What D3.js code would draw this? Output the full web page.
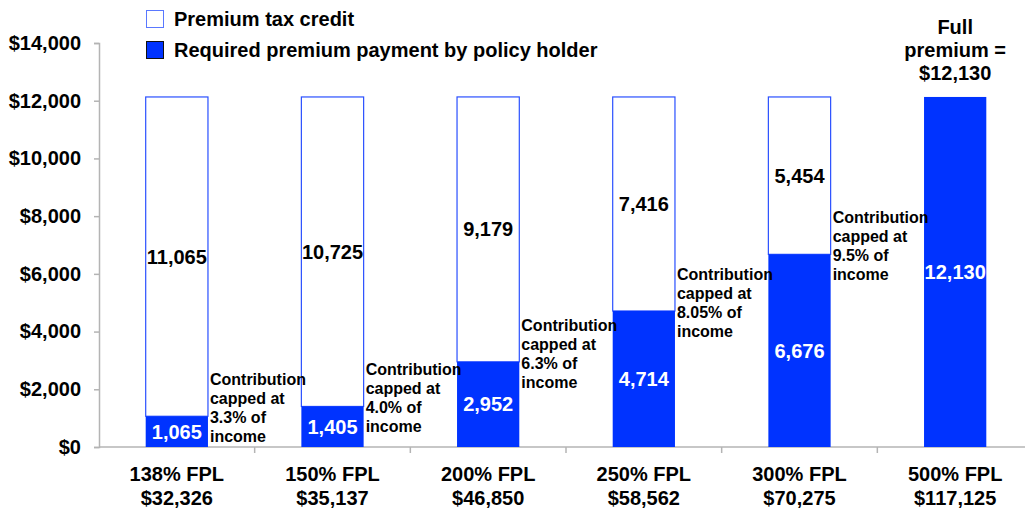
<!DOCTYPE html>
<html>
<head>
<meta charset="utf-8">
<script src="https://cdn.jsdelivr.net/npm/d3@7"></script>
<style>
  body { margin: 0; background: #fff; }
  svg { display: block; font-family: "Liberation Sans", Arial, sans-serif; font-weight: bold; }
</style>
</head>
<body>
<svg id="chart" width="1025" height="510"></svg>
<script>
// data
const categories = ["138% FPL", "150% FPL", "200% FPL", "250% FPL", "300% FPL", "500% FPL"];
const incomes = ["$32,326", "$35,137", "$46,850", "$58,562", "$70,275", "$117,125"];
const payments = [1065, 1405, 2952, 4714, 6676, 12130];
const credits = [11065, 10725, 9179, 7416, 5454, 0];
const capRates = ["3.3%", "4.0%", "6.3%", "8.05%", "9.5%", null];
const yTicks = [0, 2000, 4000, 6000, 8000, 10000, 12000, 14000];
const legendLabels = ["Premium tax credit", "Required premium payment by policy holder"];
const fullPremiumNote = ["Full", "premium =", "$12,130"];

const BLUE = "#0033ff";
const AXIS = "#b4b4b4";

const svg = d3.select("#chart");

const x = d3.scaleBand().domain(categories).range([99, 1033]).padding(0);
const y = d3.scaleLinear().domain([0, 14000]).range([447, 43]);
const barW = x.bandwidth() * 0.4;
const fmt = d3.format(",");

// y axis
const yAxis = svg.append("g")
    .attr("transform", "translate(99,0)")
    .call(d3.axisLeft(y).tickValues(yTicks).tickSize(5).tickPadding(13)
        .tickFormat(d => "$" + fmt(d)));
yAxis.select(".domain").attr("stroke", AXIS).attr("stroke-width", 1.5);
yAxis.selectAll(".tick line").attr("stroke", AXIS).attr("stroke-width", 1.5);
yAxis.selectAll(".tick text")
    .attr("fill", "#000").attr("font-size", 20).attr("font-weight", "bold")
    .attr("font-family", "Liberation Sans, Arial, sans-serif");

// x axis: line with ticks at the band boundaries
const xg = svg.append("g");
xg.append("line")
    .attr("x1", 99).attr("x2", 1033)
    .attr("y1", y(0)).attr("y2", y(0))
    .attr("stroke", AXIS).attr("stroke-width", 1.5);
xg.selectAll(".bound").data(categories.slice(1))
  .join("line")
    .attr("x1", d => x(d)).attr("x2", d => x(d))
    .attr("y1", y(0)).attr("y2", y(0) + 6)
    .attr("stroke", AXIS).attr("stroke-width", 1.5);

xg.selectAll(".cat").data(categories)
  .join("text")
    .attr("x", d => x(d) + x.bandwidth() / 2)
    .attr("y", 481)
    .attr("text-anchor", "middle")
    .attr("font-size", 20)
    .text(d => d);
xg.selectAll(".inc").data(incomes)
  .join("text")
    .attr("x", (d, i) => x(categories[i]) + x.bandwidth() / 2)
    .attr("y", 505)
    .attr("text-anchor", "middle")
    .attr("font-size", 20)
    .text(d => d);

// bars
const bars = svg.append("g").selectAll("g").data(categories).join("g")
    .attr("transform", d => `translate(${x(d) + (x.bandwidth() - barW) / 2},0)`);

// premium tax credit (white, stacked on top)
bars.filter((d, i) => credits[i] > 0).append("rect")
    .attr("x", 0)
    .attr("width", barW)
    .attr("y", (d, i) => y(payments[i] + credits[i]))
    .attr("height", (d, i) => y(payments[i]) - y(payments[i] + credits[i]))
    .attr("fill", "#fff")
    .attr("stroke", "#2a50ff")
    .attr("stroke-width", 1.2);

// required payment (blue)
bars.append("rect")
    .attr("x", 0)
    .attr("width", barW)
    .attr("y", (d, i) => y(payments[i]))
    .attr("height", (d, i) => y(0) - y(payments[i]))
    .attr("fill", BLUE);

// value labels
bars.append("text")
    .attr("x", barW / 2)
    .attr("y", (d, i) => (y(0) + y(payments[i])) / 2 + 7)
    .attr("text-anchor", "middle")
    .attr("font-size", 20)
    .attr("fill", "#fff")
    .text((d, i) => fmt(payments[i]));

bars.filter((d, i) => credits[i] > 0).append("text")
    .attr("x", barW / 2)
    .attr("y", (d, i) => (y(payments[i]) + y(payments[i] + credits[i])) / 2 + 7)
    .attr("text-anchor", "middle")
    .attr("font-size", 20)
    .attr("fill", "#000")
    .text((d, i) => fmt(credits[i]));

// contribution cap notes, right of each bar
const notes = svg.append("g");
categories.forEach((c, i) => {
    if (!capRates[i]) return;
    const t = notes.append("text")
        .attr("x", x(c) + (x.bandwidth() + barW) / 2 + 2)
        .attr("y", y(payments[i]) - 31)
        .attr("font-size", 16)
        .attr("fill", "#000");
    ["Contribution", "capped at", capRates[i] + " of", "income"].forEach((line, k) => {
        t.append("tspan")
            .attr("x", x(c) + (x.bandwidth() + barW) / 2 + 2)
            .attr("dy", k === 0 ? 0 : 19)
            .text(line);
    });
});

// full premium note above last bar
const last = categories[categories.length - 1];
const fp = svg.append("text")
    .attr("x", x(last) + x.bandwidth() / 2)
    .attr("y", 34)
    .attr("text-anchor", "middle")
    .attr("font-size", 20)
    .attr("fill", "#000");
fullPremiumNote.forEach((line, k) => {
    fp.append("tspan")
        .attr("x", x(last) + x.bandwidth() / 2)
        .attr("dy", k === 0 ? 0 : 23)
        .text(line);
});

// legend
const legend = svg.append("g").attr("transform", "translate(146,10)");
legendLabels.forEach((label, i) => {
    const row = legend.append("g").attr("transform", `translate(0,${i * 31})`);
    row.append("rect")
        .attr("x", 0.5).attr("y", 0.5)
        .attr("width", 17).attr("height", 17)
        .attr("fill", i === 0 ? "#fff" : BLUE)
        .attr("stroke", i === 0 ? "#5a78ff" : "#111")
        .attr("stroke-width", 1);
    row.append("text")
        .attr("x", 28)
        .attr("y", 16)
        .attr("font-size", 20)
        .attr("fill", "#000")
        .text(label);
});
</script>
</body>
</html>
